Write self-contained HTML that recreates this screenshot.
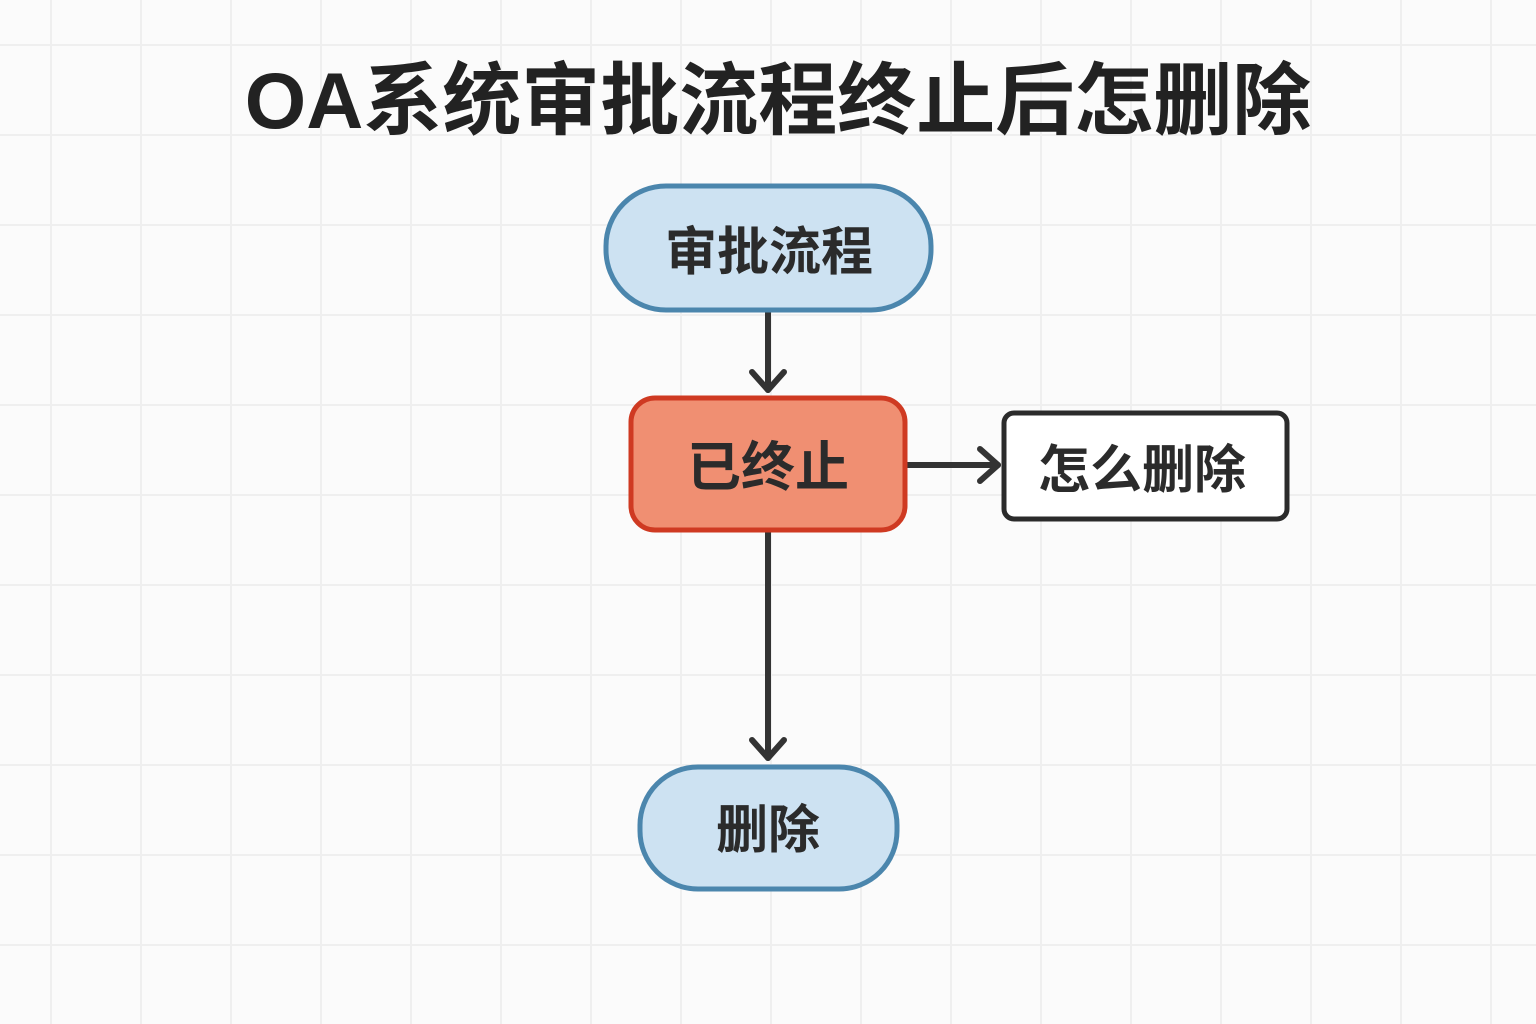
<!DOCTYPE html>
<html><head><meta charset="utf-8"><style>
html,body{margin:0;padding:0;background:#fbfbfb}
body{width:1536px;height:1024px;overflow:hidden;
background-image:linear-gradient(#efefef 2px,transparent 2px),linear-gradient(90deg,#efefef 2px,transparent 2px);
background-size:90px 90px;background-position:50px 44px}
</style></head><body>
<svg width="1536" height="1024" style="position:absolute;left:0;top:0" xmlns="http://www.w3.org/2000/svg">
<text x="778" y="128" text-anchor="middle" font-family="Liberation Sans, Noto Sans CJK SC, sans-serif" font-weight="bold" font-size="79" fill="#222">OA系统审批流程终止后怎删除</text>
<g stroke="#333" stroke-width="6" fill="none" stroke-linecap="round" stroke-linejoin="round">
<line x1="768" y1="310" x2="768" y2="390"/><polyline points="752,372 768,390 784,372"/>
<line x1="905" y1="465" x2="998" y2="465"/><polyline points="980,449 998,465 980,481"/>
<line x1="768" y1="531" x2="768" y2="758"/><polyline points="752,740 768,758 784,740"/>
</g>
<rect x="606" y="186" width="325" height="124" rx="60" fill="#cde2f2" stroke="#4b86ad" stroke-width="5"/>
<rect x="631" y="398" width="274" height="132" rx="24" fill="#f08f72" stroke="#cf3a22" stroke-width="5"/>
<rect x="1004" y="413" width="283" height="106" rx="10" fill="#fff" stroke="#2b2b2b" stroke-width="5"/>
<rect x="640" y="767" width="257" height="122" rx="58" fill="#cde2f2" stroke="#4b86ad" stroke-width="5"/>
<g font-family="Liberation Sans, Noto Sans CJK SC, sans-serif" font-weight="bold" fill="#2b2b2b" text-anchor="middle">
<text x="769" y="270" font-size="52">审批流程</text>
<text x="768" y="486" font-size="54">已终止</text>
<text x="1142" y="488" font-size="52">怎么删除</text>
<text x="768" y="848" font-size="52">删除</text>
</g>
</svg>
</body></html>
